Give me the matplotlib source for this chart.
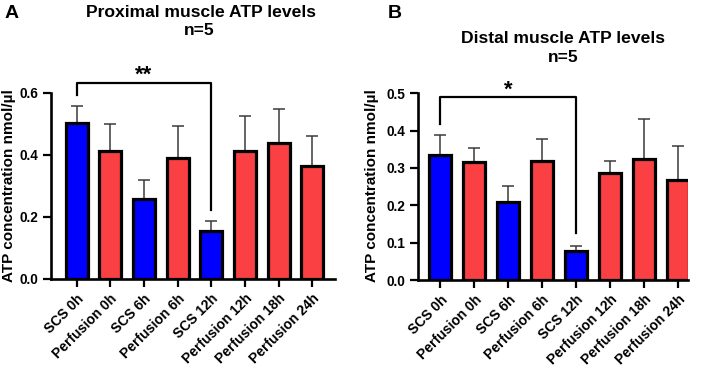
import matplotlib
matplotlib.use("Agg")
import matplotlib.pyplot as plt
import numpy as np

plt.rcParams['font.family'] = ['Liberation Sans', 'DejaVu Sans']
plt.rcParams['font.weight'] = 'bold'

categories = ["SCS 0h", "Perfusion 0h", "SCS 6h", "Perfusion 6h", "SCS 12h",
              "Perfusion 12h", "Perfusion 18h", "Perfusion 24h"]
groups = ["SCS", "Perfusion", "SCS", "Perfusion", "SCS", "Perfusion", "Perfusion", "Perfusion"]

prox_mean = [0.503, 0.414, 0.257, 0.390, 0.154, 0.412, 0.438, 0.365]
prox_sd = [0.055, 0.086, 0.062, 0.104, 0.034, 0.113, 0.110, 0.096]
dist_mean = [0.334, 0.315, 0.208, 0.320, 0.077, 0.286, 0.325, 0.267]
dist_sd = [0.053, 0.039, 0.043, 0.058, 0.015, 0.034, 0.105, 0.092]

colors = {"SCS": "#0000FF", "Perfusion": "#FA4042"}

W, H = 702, 368
fig = plt.figure(figsize=(W / 100, H / 100), dpi=100)


def fx(px):
    return px / W


def fy(py):
    return 1 - py / H


axA = fig.add_axes([fx(51), fy(279), fx(335 - 51), (279 - 93) / H])
axB = fig.add_axes([fx(418), fy(280), fx(688 - 418), (280 - 93.3) / H])


def draw(ax, means, sds, ylim, yticks, bracket, stars, xlim):
    x = np.arange(len(categories))
    cols = [colors[g] for g in groups]
    ax.errorbar(x, means, yerr=[np.zeros(len(sds)), sds], fmt='none',
                ecolor='#3a3a3a', elinewidth=1.1, capsize=4, capthick=1.1, zorder=1)
    ax.bar(x, means, width=0.65, color=cols, edgecolor='black', linewidth=2.3, zorder=2)
    ax.set_xlim(*xlim)
    ax.set_ylim(*ylim)
    ax.set_yticks(yticks)
    ax.set_yticklabels([f"{t:.1f}" for t in yticks], fontsize=9.8, fontweight='bold')
    ax.set_xticks(x)
    ax.set_xticklabels(categories, rotation=45, ha='right', rotation_mode='anchor',
                       fontsize=10, fontweight='bold')
    ax.tick_params(axis='both', direction='out', length=5.5, width=1.6, colors='black')
    for s in ['top', 'right']:
        ax.spines[s].set_visible(False)
    for s in ['left', 'bottom']:
        ax.spines[s].set_linewidth(1.9)
    i0, i1, ytop, yl, yr, ystar = bracket
    ax.plot([i0, i0, i1, i1], [yl, ytop, ytop, yr], color='black', lw=1.6,
            clip_on=False, zorder=3)
    ax.text((i0 + i1) / 2, ystar, stars, ha='center', va='center', fontsize=16,
            fontweight='bold', clip_on=False)


draw(axA, prox_mean, prox_sd, (0, 0.6), [0.0, 0.2, 0.4, 0.6],
     (0, 4, 0.631, 0.594, 0.223, 0.658), "**", (-0.76, 7.67))
draw(axB, dist_mean, dist_sd, (0, 0.5), [0.0, 0.1, 0.2, 0.3, 0.4, 0.5],
     (0, 4, 0.489, 0.419, 0.125, 0.508), "*", (-0.66, 7.30))

ylab = "ATP concentration nmol/µl"
fig.text(fx(9), fy(185.5), ylab, rotation=90, ha='center', va='center',
         fontsize=11, fontweight='bold')
fig.text(fx(372), fy(186), ylab, rotation=90, ha='center', va='center',
         fontsize=11, fontweight='bold')

fig.text(fx(201), fy(16.7), "Proximal muscle ATP levels", ha='center', va='baseline',
         fontsize=12.6, fontweight='bold')
fig.text(fx(199), fy(35), "n=5", ha='center', va='baseline', fontsize=12.6, fontweight='bold')
fig.text(fx(563), fy(43), "Distal muscle ATP levels", ha='center', va='baseline',
         fontsize=12.6, fontweight='bold')
fig.text(fx(563), fy(62), "n=5", ha='center', va='baseline', fontsize=12.6, fontweight='bold')

fig.text(fx(5), fy(18), "A", fontsize=14, fontweight='bold', va='baseline', ha='left')
fig.text(fx(388), fy(18), "B", fontsize=14, fontweight='bold', va='baseline', ha='left')

fig.savefig("out.png", dpi=100)
